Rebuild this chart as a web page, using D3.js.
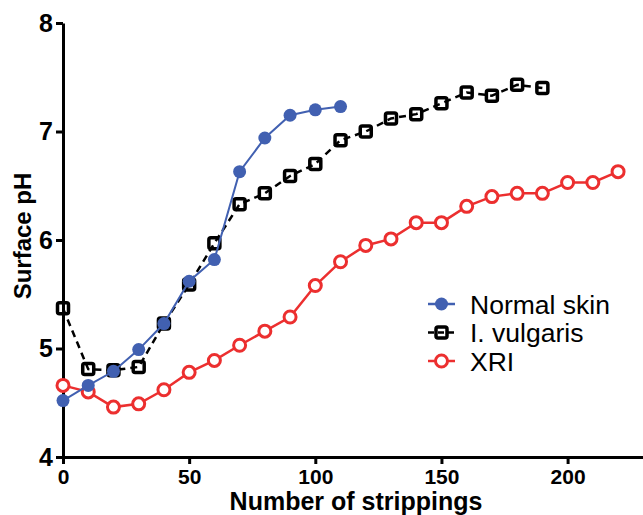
<!DOCTYPE html>
<html lang="en">
<head>
<meta charset="utf-8">
<title>Surface pH</title>
<script src="https://d3js.org/d3.v7.min.js"></script>
<style>
  body { margin: 0; background: #fff; }
  svg { display: block; font-family: "Liberation Sans", Arial, sans-serif; }
</style>
</head>
<body>
<div id="chart"></div>
<script>
// data
var normalX = [0, 10, 20, 30, 40, 50, 60, 70, 80, 90, 100, 110];
var normalY = [4.52, 4.66, 4.79, 4.99, 5.23, 5.62, 5.82, 6.63, 6.94, 7.15, 7.20, 7.23];

var vulgarisX = [0, 10, 20, 30, 40, 50, 60, 70, 80, 90, 100, 110, 120, 130, 140, 150, 160, 170, 180, 190];
var vulgarisY = [5.37, 4.81, 4.80, 4.83, 5.23, 5.59, 5.97, 6.33, 6.43, 6.59, 6.70, 6.92, 7.00, 7.12, 7.16, 7.26, 7.36, 7.33, 7.43, 7.40];

var xriX = [0, 10, 20, 30, 40, 50, 60, 70, 80, 90, 100, 110, 120, 130, 140, 150, 160, 170, 180, 190, 200, 210, 220];
var xriY = [4.66, 4.60, 4.46, 4.49, 4.62, 4.78, 4.89, 5.03, 5.16, 5.29, 5.58, 5.80, 5.95, 6.01, 6.16, 6.16, 6.31, 6.40, 6.43, 6.43, 6.53, 6.53, 6.63];

var xTicks = [0, 50, 100, 150, 200];
var yTicks = [4, 5, 6, 7, 8];

var W = 643, H = 515;
var plotLeft = 63, plotTop = 23, plotBottom = 457;

var x = d3.scaleLinear().domain([0, 230]).range([plotLeft, plotLeft + 230 * 2.523]);
var y = d3.scaleLinear().domain([4, 8]).range([plotBottom, plotTop]);

var svg = d3.select("#chart").append("svg")
    .attr("width", W)
    .attr("height", H);

// axes
var xAxis = svg.append("g")
    .attr("transform", "translate(0," + plotBottom + ")")
    .call(d3.axisBottom(x).tickValues(xTicks).tickFormat(d3.format("d"))
      .tickSize(7).tickPadding(5).tickSizeOuter(0));
var yAxis = svg.append("g")
    .attr("transform", "translate(" + plotLeft + ",0)")
    .call(d3.axisLeft(y).tickValues(yTicks).tickFormat(d3.format("d"))
      .tickSize(7).tickPadding(3).tickSizeOuter(0));

[xAxis, yAxis].forEach(function(a) {
  a.attr("font-family", null).attr("font-weight", "bold");
  a.select(".domain").attr("stroke", "#000").attr("stroke-width", 3);
  a.selectAll(".tick line").attr("stroke", "#000").attr("stroke-width", 3);
  a.selectAll(".tick text").attr("fill", "#000");
});
xAxis.attr("font-size", 21);
yAxis.attr("font-size", 25);

// axis titles
svg.append("text")
    .attr("x", 356)
    .attr("y", 510)
    .attr("text-anchor", "middle")
    .style("font-size", "25px")
    .style("font-weight", "bold")
    .text("Number of strippings");

svg.append("text")
    .attr("transform", "translate(31,236)rotate(-90)")
    .attr("text-anchor", "middle")
    .style("font-size", "24px")
    .style("font-weight", "bold")
    .text("Surface pH");

var line = d3.line()
    .x(function(d) { return x(d[0]); })
    .y(function(d) { return y(d[1]); });

var blue = "#4160b1", red = "#ec2f2f";

var normal = normalX.map(function(v, i) { return [v, normalY[i]]; });
var vulgaris = vulgarisX.map(function(v, i) { return [v, vulgarisY[i]]; });
var xri = xriX.map(function(v, i) { return [v, xriY[i]]; });

// XRI
svg.append("path").datum(xri)
    .attr("d", line)
    .attr("fill", "none")
    .attr("stroke", red)
    .attr("stroke-width", 2.5);
svg.selectAll(".xri").data(xri).enter().append("circle")
    .attr("cx", function(d) { return x(d[0]); })
    .attr("cy", function(d) { return y(d[1]); })
    .attr("r", 6)
    .attr("fill", "#fff")
    .attr("stroke", red)
    .attr("stroke-width", 3);

// I. vulgaris
svg.append("path").datum(vulgaris)
    .attr("d", line)
    .attr("fill", "none")
    .attr("stroke", "#000")
    .attr("stroke-width", 2.5)
    .attr("stroke-dasharray", "7,5");
svg.selectAll(".vul").data(vulgaris).enter().append("rect")
    .attr("x", function(d) { return x(d[0]) - 5.5; })
    .attr("y", function(d) { return y(d[1]) - 5.5; })
    .attr("width", 11)
    .attr("height", 11)
    .attr("rx", 2)
    .attr("fill", "none")
    .attr("stroke", "#000")
    .attr("stroke-width", 3.5);

// Normal skin
svg.append("path").datum(normal)
    .attr("d", line)
    .attr("fill", "none")
    .attr("stroke", blue)
    .attr("stroke-width", 2);
svg.selectAll(".norm").data(normal).enter().append("circle")
    .attr("cx", function(d) { return x(d[0]); })
    .attr("cy", function(d) { return y(d[1]); })
    .attr("r", 6.5)
    .attr("fill", blue);

// legend
var legend = [
  {name: "Normal skin", color: blue, kind: "dot"},
  {name: "I. vulgaris", color: "#000", kind: "square"},
  {name: "XRI", color: red, kind: "ring"}
];
legend.forEach(function(l, i) {
  var cy = 304 + i * 28.5;
  var g = svg.append("g");
  g.append("line")
      .attr("x1", 428).attr("x2", 455)
      .attr("y1", cy).attr("y2", cy)
      .attr("stroke", l.color)
      .attr("stroke-width", 2.5)
      .attr("stroke-dasharray", l.kind == "square" ? "6,4" : null);
  if (l.kind == "dot") {
    g.append("circle").attr("cx", 441.5).attr("cy", cy).attr("r", 6.5).attr("fill", l.color);
  } else if (l.kind == "square") {
    g.append("rect").attr("x", 436).attr("y", cy - 5.5).attr("width", 11).attr("height", 11)
        .attr("rx", 2).attr("fill", "none").attr("stroke", l.color).attr("stroke-width", 3.5);
  } else {
    g.append("circle").attr("cx", 441.5).attr("cy", cy).attr("r", 6).attr("fill", "#fff")
        .attr("stroke", l.color).attr("stroke-width", 3);
  }
  g.append("text")
      .attr("x", 470)
      .attr("y", cy + 9.5)
      .style("font-size", "26.5px")
      .attr("fill", "#000")
      .text(l.name);
});
</script>
</body>
</html>
